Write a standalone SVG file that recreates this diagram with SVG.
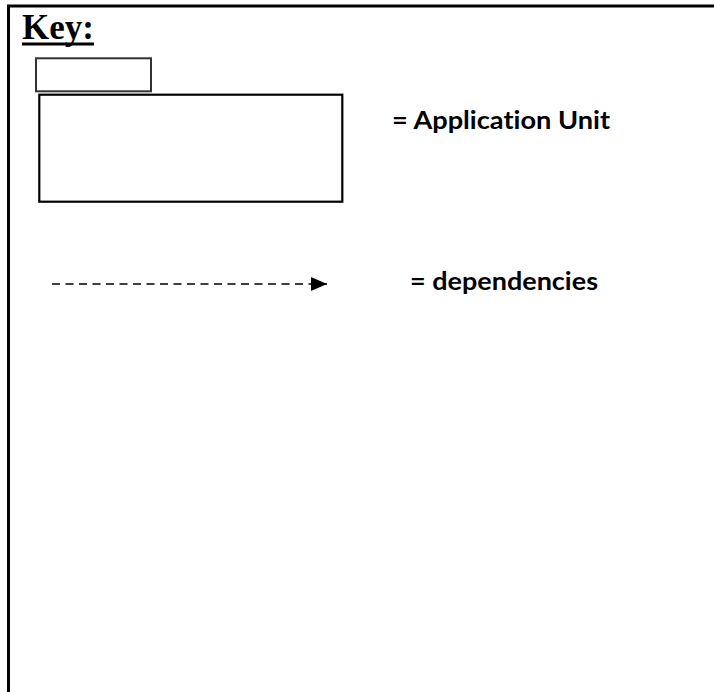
<svg xmlns="http://www.w3.org/2000/svg" width="714" height="692" viewBox="0 0 714 692">
  <style>
    .frame { stroke: #000; stroke-width: 3; fill: none; }
    .unit { fill: #fff; stroke: #000; stroke-width: 2.2; }
    .tab { fill: #fff; stroke: #333; stroke-width: 2; }
    .title { font-family: "Liberation Serif", "Times New Roman", serif; font-weight: bold; font-size: 35px; fill: #000; }
    .label { font-family: Lato, "Open Sans", "Liberation Sans", sans-serif; font-weight: bold; font-size: 25px; fill: #000; font-variant-ligatures: none; }
    .dep { stroke: #000; stroke-width: 1.6; stroke-dasharray: 8 5.5; fill: none; }
  </style>
  <defs>
    <marker id="arrow" viewBox="0 0 16 14" refX="16" refY="7" markerWidth="16" markerHeight="14" markerUnits="userSpaceOnUse" orient="auto">
      <path d="M0,0 L16,7 L0,14 Z" fill="#000"/>
    </marker>
  </defs>
  <rect width="714" height="692" fill="#fff"/>

  <!-- outer frame: top and left edges -->
  <path class="frame" d="M8.5,692 V6 H714"/>

  <!-- legend heading -->
  <g id="key-title">
    <text class="title" x="22" y="39">Key:</text>
    <rect x="22" y="42.5" width="72" height="3" fill="#000"/>
  </g>

  <!-- application unit symbol -->
  <g id="app-unit">
    <rect class="tab" x="36" y="58.3" width="115" height="33"/>
    <rect class="unit" x="39.3" y="94.7" width="303" height="107"/>
  </g>
  <g id="app-unit-label">
    <text class="label" x="392" y="128.5" textLength="218" lengthAdjust="spacingAndGlyphs">= Application Unit</text>
  </g>

  <!-- dependency symbol -->
  <g id="connectors">
    <line class="dep" x1="52" y1="284" x2="327" y2="284" marker-end="url(#arrow)"/>
  </g>
  <g id="dep-label">
    <text class="label" x="410" y="290" textLength="188" lengthAdjust="spacingAndGlyphs">= dependencies</text>
  </g>
</svg>
